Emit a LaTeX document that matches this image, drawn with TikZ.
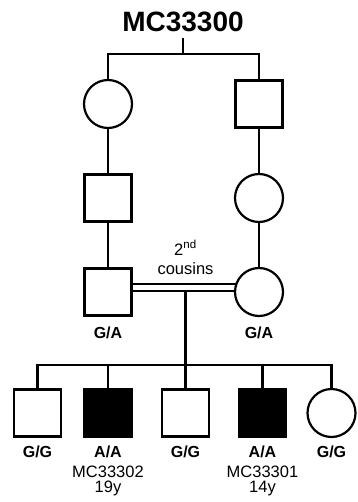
\documentclass[tikz,border=0pt]{standalone}
\usepackage{fontspec}
\setmainfont{Liberation Sans}
\usetikzlibrary{positioning,backgrounds}
\tikzset{
  indiv/.style={draw,line width=2.2pt,inner sep=0pt,fill=white},
  male/.style={indiv,rectangle,minimum size=47pt},
  female/.style={indiv,circle,minimum size=48pt},
  affmale/.style={male,fill=black},
  link/.style={line width=2.2pt},
  mating/.style={line width=2.2pt,double=white,double distance=5pt},
  geno/.style={anchor=base,inner sep=0pt,font=\bfseries\fontsize{16}{18}\selectfont},
  info/.style={anchor=base,inner sep=0pt,font=\fontsize{16.5}{18}\selectfont},
}
\begin{document}
\begin{tikzpicture}[x=1pt,y=-1pt]
  \useasboundingbox (0,0) rectangle (357,502);
  \node[anchor=base,inner sep=0pt,font=\bfseries\fontsize{28}{32}\selectfont] (title) at (183,32) {MC33300};
  \coordinate (t0) at (183,38);
  \coordinate (top) at (183,54);

  \node[female] (gm) at (108,104) {};
  \node[male]   (gf) at (259,104) {};
  \node[male]   (pa) at (108,198) {};
  \node[female] (pb) at (259,198) {};
  \node[male]   (fa) at (108,292) {};
  \node[female] (mo) at (259,292) {};
  \node[geno] (gfa) at (108,338) {G/A};
  \node[geno] (gmo) at (259,338) {G/A};
  \node[info] (rel1) at (185.5,255) {2\textsuperscript{nd}};
  \node[info] (rel2) at (185.5,274) {cousins};

  \coordinate (mar)  at (185.5,287.5);
  \coordinate (drop) at (185.5,291);
  \coordinate (sib)  at (185.5,365);

  \node[male]    (c1) at (37.5,413) {};
  \node[affmale] (c2) at (108,413) {};
  \node[male]    (c3) at (185.5,413) {};
  \node[affmale] (c4) at (262.5,413) {};
  \node[female]  (c5) at (331.5,413) {};
  \node[geno] (g1) at (37.5,457) {G/G};
  \node[geno] (g2) at (108,457) {A/A};
  \node[geno] (g3) at (185.5,457) {G/G};
  \node[geno] (g4) at (262.5,457) {A/A};
  \node[geno] (g5) at (331.5,457) {G/G};
  \node[info] (id2)  at (108,477) {MC33302};
  \node[info] (age2) at (108,492) {19y};
  \node[info] (id4)  at (262.5,477) {MC33301};
  \node[info] (age4) at (262.5,492) {14y};

  \begin{scope}[on background layer]
    \draw[link] (t0) -- (top);
    \draw[link] (gm) |- (top) -| (gf);
    \draw[link] (gm) -- (pa) -- (fa);
    \draw[link] (gf) -- (pb) -- (mo);
    \draw[mating] (fa |- mar) -- (mo |- mar);
    \draw[link] (drop) -- (sib);
    \draw[link] (c1) |- (sib) -| (c5);
    \foreach \c in {c2,c3,c4} \draw[link] (\c) -- (\c |- sib);
  \end{scope}
\end{tikzpicture}
\end{document}
